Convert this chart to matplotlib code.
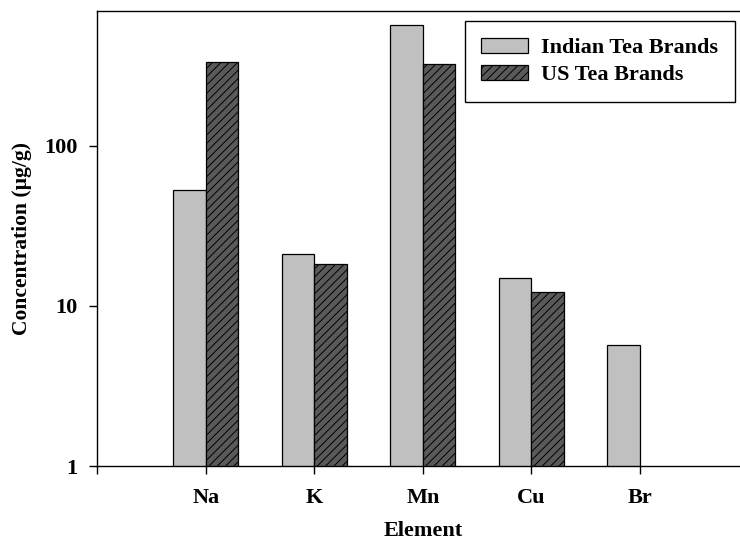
import matplotlib
matplotlib.use("Agg")
import matplotlib.pyplot as plt
import numpy as np

elements = ["Na", "K", "Mn", "Cu", "Br"]
indian = [53.4, 21.1, 573, 14.9, 5.69]
us = [337, 18.2, 327, 12.3, np.nan]
series_names = ["Indian Tea Brands", "US Tea Brands"]
yticks = [1, 10, 100]
ytick_labels = ["1", "10", "100"]

plt.rcParams['font.family'] = ['Liberation Serif', 'DejaVu Serif']
plt.rcParams['font.weight'] = 'bold'
plt.rcParams['hatch.linewidth'] = 0.7

fig = plt.figure(figsize=(7.4, 5.44), dpi=100)
ax = fig.add_axes([97.3/740, 1-466/544, 651/740, 455.3/544])

x = np.arange(1, len(elements) + 1)
w = 0.3
ax.bar(x - w/2, indian, width=w, color='#c0c0c0', edgecolor='black', linewidth=0.9,
       label=series_names[0])
mask = np.array([not np.isnan(v) for v in us])
ax.bar(x[mask] + w/2, np.array(us)[mask], width=w, color='#5a5a5a', edgecolor='black',
       linewidth=0.9, hatch='////', label=series_names[1])

ax.set_yscale('log')
ax.set_ylim(1, 700)
ax.set_xlim(0, 6)
ax.set_yticks(yticks)
ax.set_yticklabels(ytick_labels)
ax.yaxis.set_minor_locator(matplotlib.ticker.NullLocator())
ax.set_xticks([0] + list(x))
ax.set_xticklabels([""] + elements)
ax.tick_params(axis='both', labelsize=16, width=1, length=6, direction='out')
ax.tick_params(axis='x', pad=10)
ax.tick_params(axis='y', pad=8)
for lab in ax.get_xticklabels() + ax.get_yticklabels():
    lab.set_fontweight('bold')

ax.set_xlabel("Element", fontsize=16, fontweight='bold', labelpad=9)
ax.set_ylabel("Concentration (\u00b5g/g)", fontsize=15.5, fontweight='bold', labelpad=9)

for s in ax.spines.values():
    s.set_linewidth(1)

leg = ax.legend(loc='upper right', bbox_to_anchor=(735/740, 1-21/544),
                bbox_transform=fig.transFigure, fancybox=False, framealpha=1,
                edgecolor='black', prop={'size': 16, 'weight': 'bold'},
                handlelength=2.1, handleheight=0.7, borderpad=0.75, labelspacing=0.3,
                borderaxespad=0, handletextpad=0.6)
leg.get_frame().set_linewidth(1)

fig.savefig("out.png", dpi=100)
